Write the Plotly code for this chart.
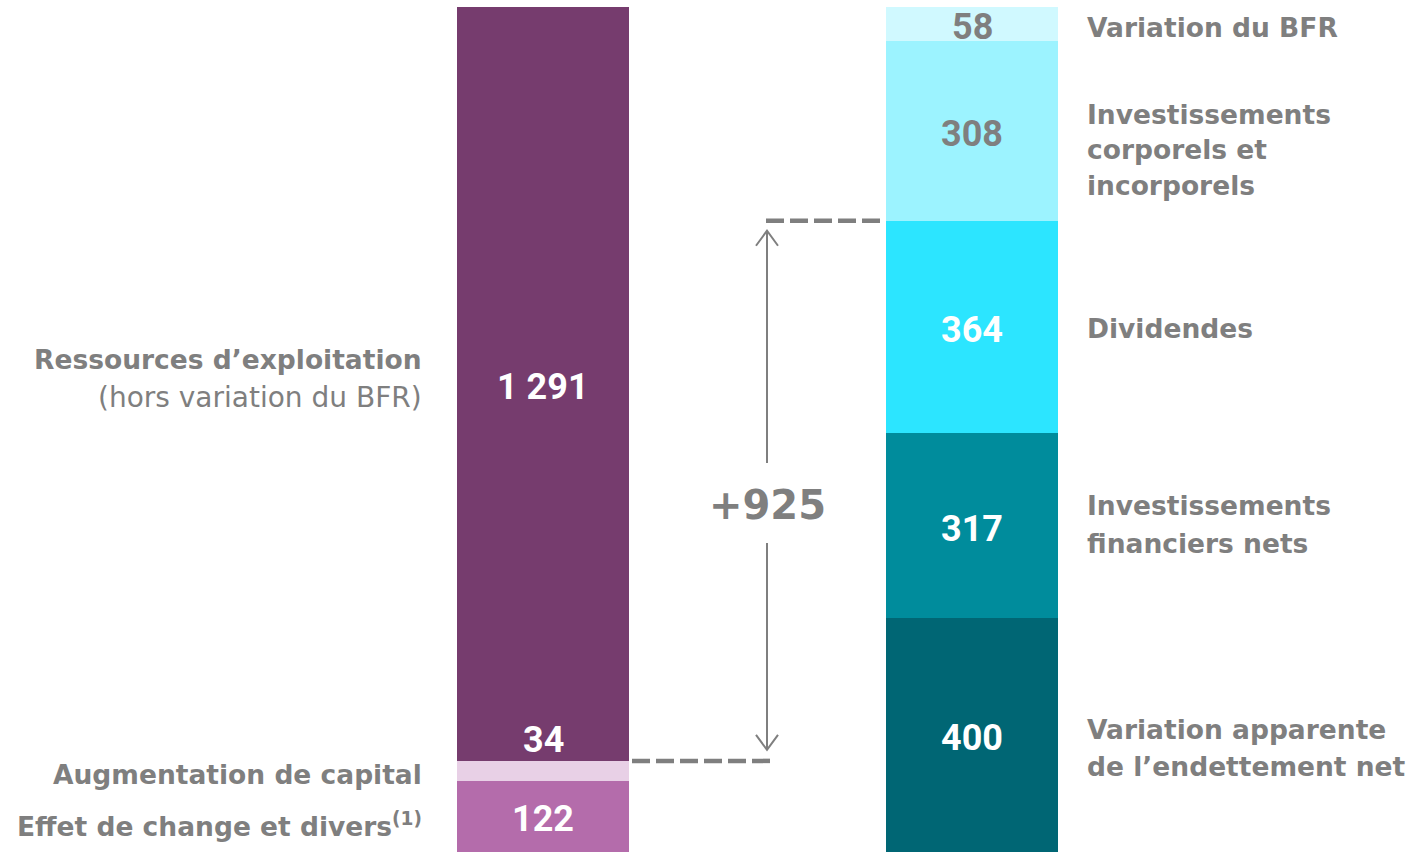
import plotly.graph_objects as go

# ---- data ----
left_values = [122, 34, 1291]
left_labels = ["122", "34", "1 291"]
left_colors = ["#B46CAB", "#E8D0E6", "#763C6E"]
left_text_colors = ["white", "white", "white"]

right_values = [400, 317, 364, 308, 58]
right_labels = ["400", "317", "364", "308", "58"]
right_colors = ["#006674", "#008C9C", "#2CE5FF", "#9CF3FF", "#D0F9FF"]
right_text_colors = ["white", "white", "white", "#7F7F7F", "#7F7F7F"]

delta_label = "+925"

left_names = ["Effet de change et divers<sup>(1)</sup>", "Augmentation de capital",
              "Ressources d’exploitation"]
right_names = ["Variation apparente|de l’endettement net",
               "Investissements|financiers nets",
               "Dividendes",
               "Investissements|corporels et|incorporels",
               "Variation du BFR"]

GRAY = "#7F7F7F"
W, H = 1414, 852
TOP, BOT = 7, 852
total = sum(left_values)
YPX = total / (BOT - TOP)  # data units per pixel

def y_of(py):
    return (BOT - py) * YPX

XC0, XC1 = 543, 972
PXU = XC1 - XC0
def x_of(px):
    return (px - XC0) / PXU

fig = go.Figure()
BW = 172 / PXU

for v, c in zip(left_values, left_colors):
    fig.add_bar(x=[0], y=[v], marker=dict(color=c, line=dict(width=0)), width=BW,
                hoverinfo="skip", showlegend=False)
for v, c in zip(right_values, right_colors):
    fig.add_bar(x=[1], y=[v], marker=dict(color=c, line=dict(width=0)), width=BW,
                hoverinfo="skip", showlegend=False)

ann = []
def value_labels(xc, values, labels, tcolors):
    cum = 0
    for v, lab, tc in zip(values, labels, tcolors):
        mid = cum + v / 2 - 3 * YPX
        if lab == "34":
            mid = cum + v + 35  # label sits just above the thin segment
        ann.append(dict(x=xc, y=mid, xref="x", yref="y", text=lab, showarrow=False,
                        font=dict(family="Roboto", size=36, color=tc, weight=700),
                        xanchor="center", yanchor="middle"))
        cum += v

value_labels(0, left_values, left_labels, left_text_colors)
value_labels(1, right_values, right_labels, right_text_colors)

LF = dict(family="DejaVu Sans", size=26.5, color=GRAY, weight=700)
LFn = dict(family="DejaVu Sans", size=28, color=GRAY, weight=400)

def txt(px, py, s, anchor, font):
    ann.append(dict(x=px / W, y=(BOT - py) / (BOT - TOP), xref="paper", yref="paper",
                    text=s, showarrow=False, font=font, xanchor=anchor, yanchor="middle"))

# left names
txt(424, 359, left_names[2], "right", LF)
txt(424, 397, "(hors variation du BFR)", "right", LFn)
txt(424, 774, left_names[1], "right", LF)
txt(424, 825, left_names[0], "right", LF)

# right names
right_py = [[729, 766], [506, 543], [328], [115, 150, 185], [27]]
for name, pys in zip(right_names, right_py):
    for line, py in zip(name.split("|"), pys):
        txt(1085, py, line, "left", LF)

# dashed connector lines
low_level = left_values[0] + left_values[1]
high_level = sum(right_values[:3])
fig.add_shape(type="line", x0=x_of(632), x1=x_of(772), y0=low_level, y1=low_level,
              line=dict(color=GRAY, width=4.5, dash="18px,6px"))
fig.add_shape(type="line", x0=x_of(766), x1=x_of(880), y0=high_level, y1=high_level,
              line=dict(color=GRAY, width=4.5, dash="18px,6px"))

# double arrow (two halves, gap for the label)
xa = x_of(767)
top_tip = high_level - 10 * YPX
bot_tip = low_level + 11 * YPX
gap_top = y_of(463)
gap_bot = y_of(543)
dx = 11 / PXU
dy = 15 * YPX
line_style = dict(color=GRAY, width=2)
fig.add_scatter(x=[xa, xa], y=[gap_top, top_tip], mode="lines", line=line_style,
                hoverinfo="skip", showlegend=False)
fig.add_scatter(x=[xa - dx, xa, xa + dx], y=[top_tip - dy, top_tip, top_tip - dy],
                mode="lines", line=line_style, hoverinfo="skip", showlegend=False)
fig.add_scatter(x=[xa, xa], y=[gap_bot, bot_tip], mode="lines", line=line_style,
                hoverinfo="skip", showlegend=False)
fig.add_scatter(x=[xa - dx, xa, xa + dx], y=[bot_tip + dy, bot_tip, bot_tip + dy],
                mode="lines", line=line_style, hoverinfo="skip", showlegend=False)

ann.append(dict(x=xa, y=(gap_top + gap_bot) / 2 - 2 * YPX, xref="x", yref="y", text=delta_label,
                showarrow=False, font=dict(family="DejaVu Sans", size=40, color=GRAY, weight=700),
                xanchor="center", yanchor="middle"))

fig.update_layout(
    width=W, height=H, barmode="stack", bargap=0,
    margin=dict(l=0, r=0, t=TOP, b=H - BOT),
    paper_bgcolor="white", plot_bgcolor="white",
    xaxis=dict(range=[x_of(0), x_of(W)], visible=False, fixedrange=True),
    yaxis=dict(range=[0, total], visible=False, fixedrange=True),
    annotations=ann, showlegend=False,
)
fig.write_html("out.html", config={"displayModeBar": False},
               post_script="document.body.style.margin='0';document.body.style.overflow='hidden';")
